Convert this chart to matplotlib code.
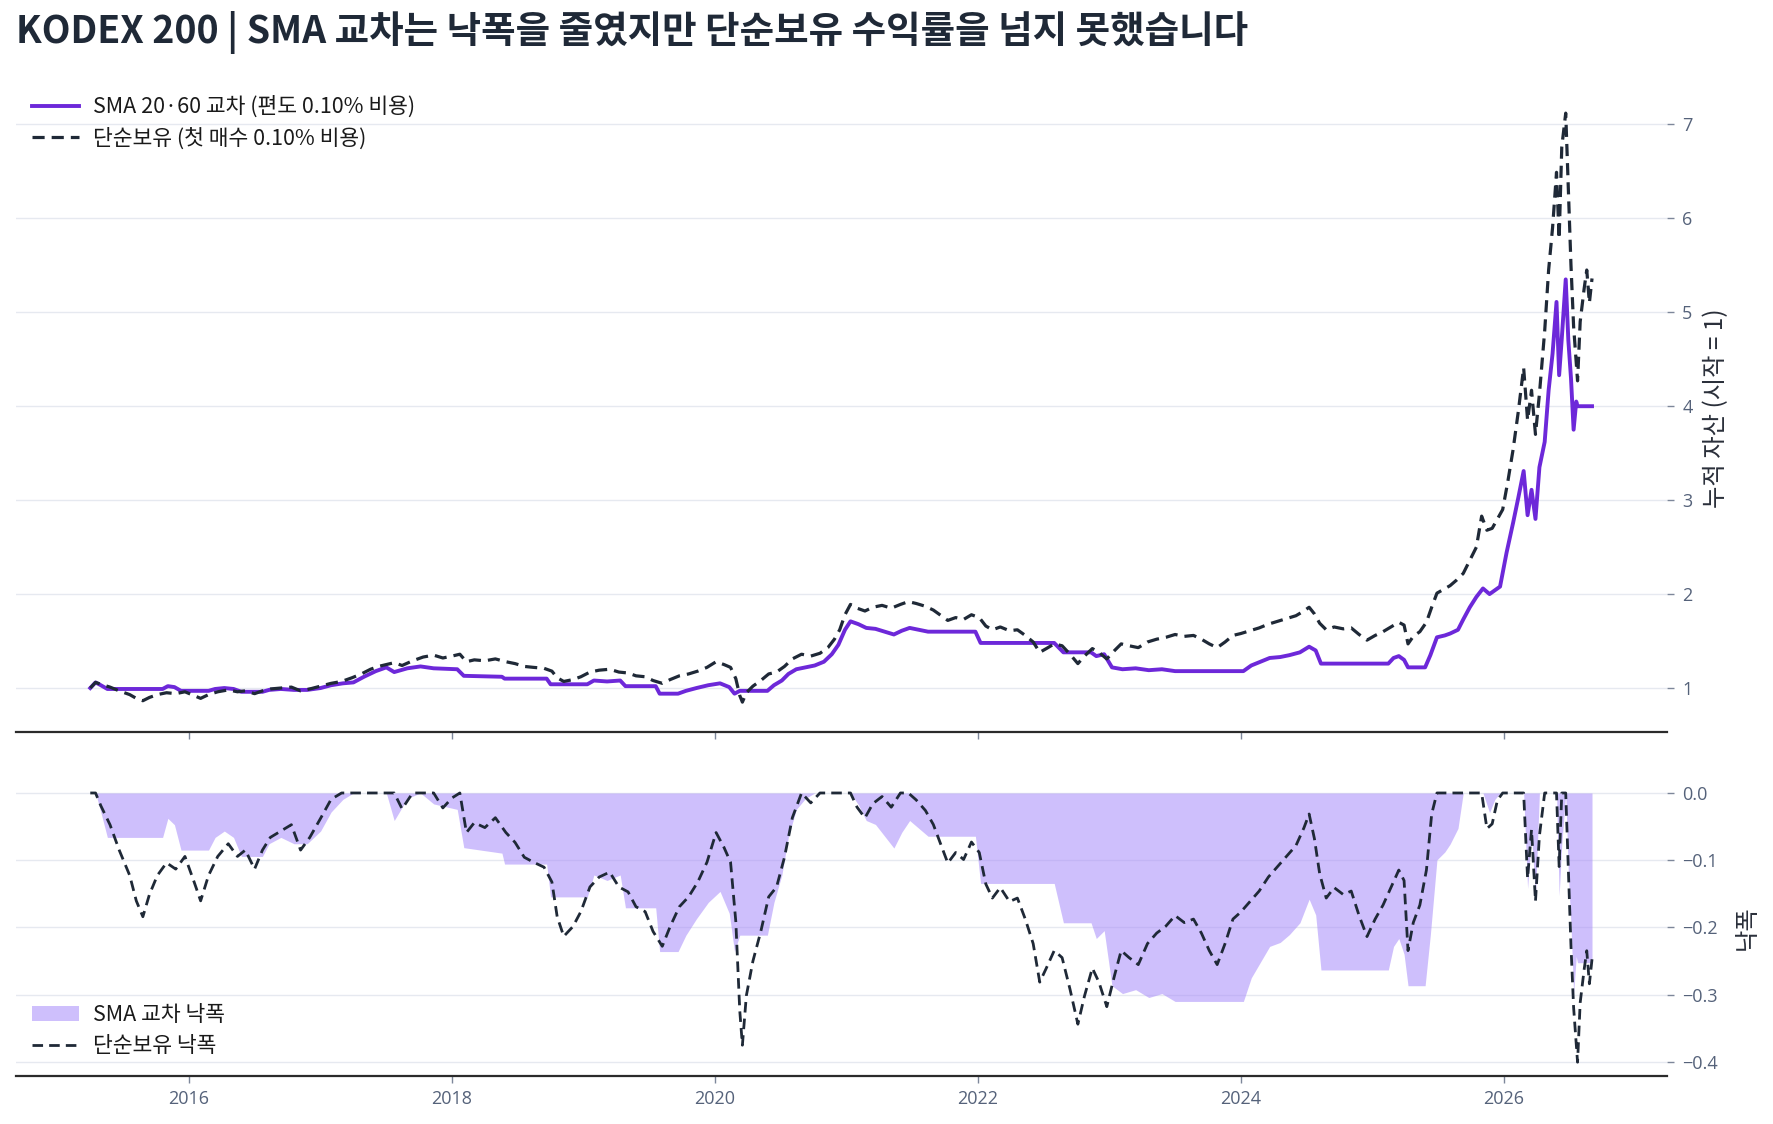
import matplotlib
matplotlib.use('Agg')
import matplotlib.pyplot as plt
import matplotlib.dates as mdates
from matplotlib.lines import Line2D
from matplotlib.patches import Patch
import numpy as np
from datetime import datetime, timedelta

plt.rcParams['font.family'] = ['Noto Sans CJK KR', 'DejaVu Sans']

# ---------------- data (decimal years, equity multiples) ----------------
bh_t = [2015.25, 2015.29, 2015.33, 2015.40, 2015.47, 2015.55, 2015.60, 2015.65, 2015.70, 2015.76,
        2015.83, 2015.90, 2015.97, 2016.04, 2016.09, 2016.15, 2016.22, 2016.30, 2016.37, 2016.43,
        2016.50, 2016.56, 2016.62, 2016.70, 2016.78, 2016.85, 2016.92, 2017.00, 2017.08, 2017.16,
        2017.24, 2017.31, 2017.38, 2017.44, 2017.50, 2017.56, 2017.62, 2017.70, 2017.78, 2017.86,
        2017.93, 2018.00, 2018.06, 2018.11, 2018.17, 2018.25, 2018.33, 2018.41, 2018.48, 2018.55,
        2018.62, 2018.70, 2018.76, 2018.80, 2018.85, 2018.92, 2018.98, 2019.05, 2019.12, 2019.20,
        2019.27, 2019.34, 2019.40, 2019.47, 2019.53, 2019.60, 2019.66, 2019.73, 2019.80, 2019.87,
        2019.94, 2020.01, 2020.07, 2020.12, 2020.16, 2020.19, 2020.21, 2020.24, 2020.29, 2020.35,
        2020.41, 2020.47, 2020.53, 2020.59, 2020.66, 2020.73, 2020.80, 2020.86, 2020.91, 2020.95,
        2020.99, 2021.03, 2021.08, 2021.14, 2021.20, 2021.27, 2021.34, 2021.41, 2021.47, 2021.53,
        2021.60, 2021.66, 2021.72, 2021.77, 2021.83, 2021.89, 2021.95, 2022.01, 2022.06, 2022.11,
        2022.17, 2022.24, 2022.30, 2022.36, 2022.42, 2022.47, 2022.52, 2022.58, 2022.64, 2022.70,
        2022.76, 2022.81, 2022.87, 2022.92, 2022.98, 2023.04, 2023.09, 2023.15, 2023.22, 2023.29,
        2023.36, 2023.43, 2023.50, 2023.57, 2023.64, 2023.70, 2023.76, 2023.82, 2023.88, 2023.94,
        2024.00, 2024.07, 2024.14, 2024.21, 2024.28, 2024.35, 2024.42, 2024.48, 2024.52, 2024.56,
        2024.60, 2024.65, 2024.71, 2024.78, 2024.84, 2024.90, 2024.96, 2025.02, 2025.08, 2025.14,
        2025.20, 2025.24, 2025.27, 2025.31, 2025.36, 2025.41, 2025.45, 2025.49, 2025.54, 2025.59,
        2025.64, 2025.69, 2025.74, 2025.79, 2025.83, 2025.87, 2025.91, 2025.95, 2025.99, 2026.03,
        2026.07, 2026.11, 2026.15, 2026.18, 2026.21, 2026.24, 2026.27, 2026.31, 2026.34, 2026.37,
        2026.40, 2026.42, 2026.44, 2026.47, 2026.49, 2026.51, 2026.53, 2026.56, 2026.58, 2026.61,
        2026.63, 2026.65, 2026.67]
bh_v = [1.00, 1.06, 1.04, 1.01, 0.97, 0.93, 0.89, 0.865, 0.90, 0.93,
        0.95, 0.94, 0.96, 0.92, 0.89, 0.93, 0.96, 0.98, 0.96, 0.97,
        0.94, 0.97, 0.99, 1.00, 1.01, 0.97, 0.99, 1.02, 1.05, 1.07,
        1.11, 1.15, 1.20, 1.23, 1.25, 1.27, 1.24, 1.29, 1.33, 1.35,
        1.32, 1.34, 1.36, 1.28, 1.30, 1.29, 1.31, 1.28, 1.26, 1.23,
        1.22, 1.21, 1.18, 1.11, 1.07, 1.09, 1.12, 1.17, 1.19, 1.20,
        1.17, 1.16, 1.13, 1.12, 1.08, 1.05, 1.09, 1.13, 1.15, 1.18,
        1.22, 1.28, 1.25, 1.22, 1.10, 0.92, 0.85, 0.95, 1.02, 1.08,
        1.15, 1.17, 1.23, 1.31, 1.36, 1.34, 1.37, 1.43, 1.52, 1.62,
        1.78, 1.89, 1.85, 1.82, 1.86, 1.88, 1.85, 1.89, 1.92, 1.90,
        1.87, 1.83, 1.77, 1.72, 1.75, 1.73, 1.78, 1.75, 1.66, 1.62,
        1.65, 1.61, 1.62, 1.56, 1.49, 1.38, 1.42, 1.47, 1.45, 1.36,
        1.26, 1.34, 1.42, 1.38, 1.31, 1.40, 1.47, 1.45, 1.43, 1.49,
        1.52, 1.54, 1.57, 1.55, 1.56, 1.52, 1.47, 1.43, 1.49, 1.56,
        1.58, 1.61, 1.64, 1.68, 1.71, 1.74, 1.77, 1.82, 1.86, 1.79,
        1.69, 1.62, 1.65, 1.63, 1.64, 1.57, 1.51, 1.56, 1.60, 1.65,
        1.70, 1.67, 1.47, 1.55, 1.60, 1.70, 1.86, 2.01, 2.05, 2.09,
        2.15, 2.22, 2.36, 2.50, 2.83, 2.68, 2.70, 2.80, 2.90, 3.20,
        3.54, 3.95, 4.41, 3.85, 4.17, 3.70, 4.13, 4.80, 5.45, 5.90,
        6.49, 5.78, 6.76, 7.12, 6.30, 5.50, 4.85, 4.27, 4.90, 5.25,
        5.45, 5.10, 5.36]

sma_t = [2015.25, 2015.29, 2015.33, 2015.38, 2015.80, 2015.84, 2015.89, 2015.94, 2016.15, 2016.20,
         2016.27, 2016.34, 2016.40, 2016.56, 2016.61, 2016.70, 2016.80, 2016.90, 2017.00, 2017.08,
         2017.17, 2017.25, 2017.33, 2017.42, 2017.50, 2017.56, 2017.66, 2017.76, 2017.86, 2018.04,
         2018.09, 2018.38, 2018.40, 2018.72, 2018.75, 2019.03, 2019.08, 2019.18, 2019.28, 2019.32,
         2019.55, 2019.58, 2019.72, 2019.78, 2019.86, 2019.95, 2020.04, 2020.11, 2020.15, 2020.19,
         2020.40, 2020.45, 2020.51, 2020.56, 2020.62, 2020.69, 2020.76, 2020.83, 2020.89, 2020.94,
         2020.99, 2021.03, 2021.09, 2021.15, 2021.22, 2021.29, 2021.36, 2021.42, 2021.48, 2021.55,
         2021.62, 2021.98, 2022.02, 2022.58, 2022.65, 2022.86, 2022.90, 2022.96, 2023.02, 2023.10,
         2023.20, 2023.30, 2023.40, 2023.50, 2024.02, 2024.08, 2024.15, 2024.22, 2024.30, 2024.37,
         2024.45, 2024.52, 2024.57, 2024.61, 2025.12, 2025.16, 2025.20, 2025.24, 2025.27, 2025.40,
         2025.44, 2025.49, 2025.55, 2025.59, 2025.65, 2025.69, 2025.74, 2025.79, 2025.84, 2025.89,
         2025.93, 2025.97, 2026.02, 2026.07, 2026.11, 2026.15, 2026.18, 2026.21, 2026.24, 2026.27,
         2026.31, 2026.34, 2026.37, 2026.40, 2026.42, 2026.44, 2026.47, 2026.49, 2026.51, 2026.53,
         2026.55, 2026.56, 2026.67]
sma_v = [1.00, 1.06, 1.03, 0.99, 0.99, 1.02, 1.01, 0.97, 0.97, 0.99,
         1.00, 0.99, 0.96, 0.96, 0.98, 0.99, 0.98, 0.98, 1.00, 1.03,
         1.05, 1.06, 1.12, 1.18, 1.22, 1.17, 1.21, 1.23, 1.21, 1.20,
         1.13, 1.12, 1.10, 1.10, 1.04, 1.04, 1.08, 1.07, 1.08, 1.02,
         1.02, 0.94, 0.94, 0.97, 1.00, 1.03, 1.05, 1.01, 0.94, 0.97,
         0.97, 1.03, 1.08, 1.15, 1.20, 1.22, 1.24, 1.28, 1.36, 1.46,
         1.62, 1.71, 1.68, 1.64, 1.63, 1.60, 1.57, 1.61, 1.64, 1.62,
         1.60, 1.60, 1.48, 1.48, 1.38, 1.38, 1.34, 1.36, 1.22, 1.20,
         1.21, 1.19, 1.20, 1.18, 1.18, 1.24, 1.28, 1.32, 1.33, 1.35,
         1.38, 1.44, 1.40, 1.26, 1.26, 1.32, 1.34, 1.30, 1.22, 1.22,
         1.35, 1.54, 1.56, 1.58, 1.62, 1.73, 1.86, 1.97, 2.06, 2.00,
         2.04, 2.08, 2.44, 2.76, 3.03, 3.31, 2.84, 3.11, 2.80, 3.35,
         3.62, 4.17, 4.56, 5.11, 4.33, 4.72, 5.35, 4.70, 4.30, 3.75,
         4.05, 4.00, 4.00]

title = 'KODEX 200 | SMA 교차는 낙폭을 줄였지만 단순보유 수익률을 넘지 못했습니다'
label_sma = 'SMA 20·60 교차 (편도 0.10% 비용)'
label_bh = '단순보유 (첫 매수 0.10% 비용)'
label_sma_dd = 'SMA 교차 낙폭'
label_bh_dd = '단순보유 낙폭'
ylabel_top = '누적 자산 (시작 = 1)'
ylabel_bot = '낙폭'
top_ticks = [1, 2, 3, 4, 5, 6, 7]
bot_ticks = [0.0, -0.1, -0.2, -0.3, -0.4]


def to_date(y):
    yr = int(y)
    return datetime(yr, 1, 1) + timedelta(days=(y - yr) * 365.25)


bh_d = [to_date(t) for t in bh_t]
sma_d = [to_date(t) for t in sma_t]
bh_arr = np.array(bh_v)
sma_arr = np.array(sma_v)
bh_dd = bh_arr / np.maximum.accumulate(bh_arr) - 1
sma_dd = sma_arr / np.maximum.accumulate(sma_arr) - 1

# ---------------- style ----------------
PURPLE = '#6d28d9'
DARK = '#1f2937'
FILL = '#a78bfa'
GRID = '#e6e9f0'
TICKC = '#55627a'
TICKMARK = '#7d879a'
DASH = (0, (3.8, 2.2))
W, H = 1773, 1124

fig = plt.figure(figsize=(W / 100, H / 100), dpi=100)
ax1 = fig.add_axes([16 / W, 1 - 732 / H, (1667 - 16) / W, (732 - 84) / H])
ax2 = fig.add_axes([16 / W, 1 - 1076 / H, (1667 - 16) / W, (1076 - 780) / H], sharex=ax1)

ax1.plot(sma_d, sma_v, color=PURPLE, lw=2.8, zorder=3, solid_joinstyle='round')
ax1.plot(bh_d, bh_v, color=DARK, lw=2.3, linestyle=DASH, zorder=4)

ax2.fill_between(sma_d, sma_dd, 0, color=FILL, alpha=0.55, linewidth=0, zorder=2)
ax2.plot(bh_d, bh_dd, color=DARK, lw=2.0, linestyle=DASH, zorder=4)

xmin = datetime(2014, 9, 8)
xmax = datetime(2027, 3, 30)
ax1.set_xlim(xmin, xmax)
ax1.set_ylim(0.532, 7.43)
ax2.set_ylim(-0.4208, 0.0193)
ax1.set_yticks(top_ticks)
ax2.set_yticks(bot_ticks)
ax2.set_yticklabels(['0.0' if v == 0 else '\u2212%.1f' % abs(v) for v in bot_ticks])

for ax in (ax1, ax2):
    ax.set_facecolor('white')
    for s in ('top', 'left', 'right'):
        ax.spines[s].set_visible(False)
    ax.spines['bottom'].set_color('#2b2b2b')
    ax.spines['bottom'].set_linewidth(1.6)
    ax.yaxis.tick_right()
    ax.grid(axis='y', color=GRID, lw=1.0, zorder=0)
    ax.set_axisbelow(True)
    ax.tick_params(axis='y', direction='out', length=5, width=1, color=TICKMARK,
                   labelcolor=TICKC, labelsize=13, pad=6, left=False, right=True)
    ax.tick_params(axis='x', direction='out', length=5, width=1, color=TICKMARK,
                   labelcolor=TICKC, labelsize=13, pad=5)
    for lab in ax.get_yticklabels():
        lab.set_family(['Open Sans', 'DejaVu Sans'])

ax1.xaxis.set_major_locator(mdates.YearLocator(2))
ax1.xaxis.set_major_formatter(mdates.DateFormatter('%Y'))
plt.setp(ax1.get_xticklabels(), visible=False)
for lab in ax2.get_xticklabels():
    lab.set_family(['Open Sans', 'DejaVu Sans'])

fig.text(16 / W, 1 - 32 / H, title, ha='left', va='center', fontsize=27,
         fontweight='bold', color=DARK)
fig.text(1716 / W, 1 - 408 / H, ylabel_top, rotation=90, ha='center', va='center',
         fontsize=17.5, color='#2a2f3a')
fig.text(1747 / W, 1 - 928 / H, ylabel_bot, rotation=90, ha='center', va='center',
         fontsize=17.5, color='#2a2f3a')

h_top = [Line2D([], [], color=PURPLE, lw=2.8),
         Line2D([], [], color=DARK, lw=2.3, linestyle=DASH)]
ax1.legend(h_top, [label_sma, label_bh], loc='upper left',
           bbox_to_anchor=(32 / W, 1 - 96 / H), bbox_transform=fig.transFigure,
           frameon=False, fontsize=15.5, handlelength=2.2, handletextpad=0.65,
           borderpad=0, borderaxespad=0, labelspacing=0.42, labelcolor='#1a1a1a')

h_bot = [Patch(facecolor=FILL, alpha=0.55, edgecolor='none'),
         Line2D([], [], color=DARK, lw=2.0, linestyle=DASH)]
ax2.legend(h_bot, [label_sma_dd, label_bh_dd], loc='upper left',
           bbox_to_anchor=(32 / W, 1 - 1004 / H), bbox_transform=fig.transFigure,
           frameon=False, fontsize=15.5, handlelength=2.2, handletextpad=0.65,
           borderpad=0, borderaxespad=0, labelspacing=0.42, labelcolor='#1a1a1a')

fig.savefig('out.png', dpi=100, facecolor='white')
